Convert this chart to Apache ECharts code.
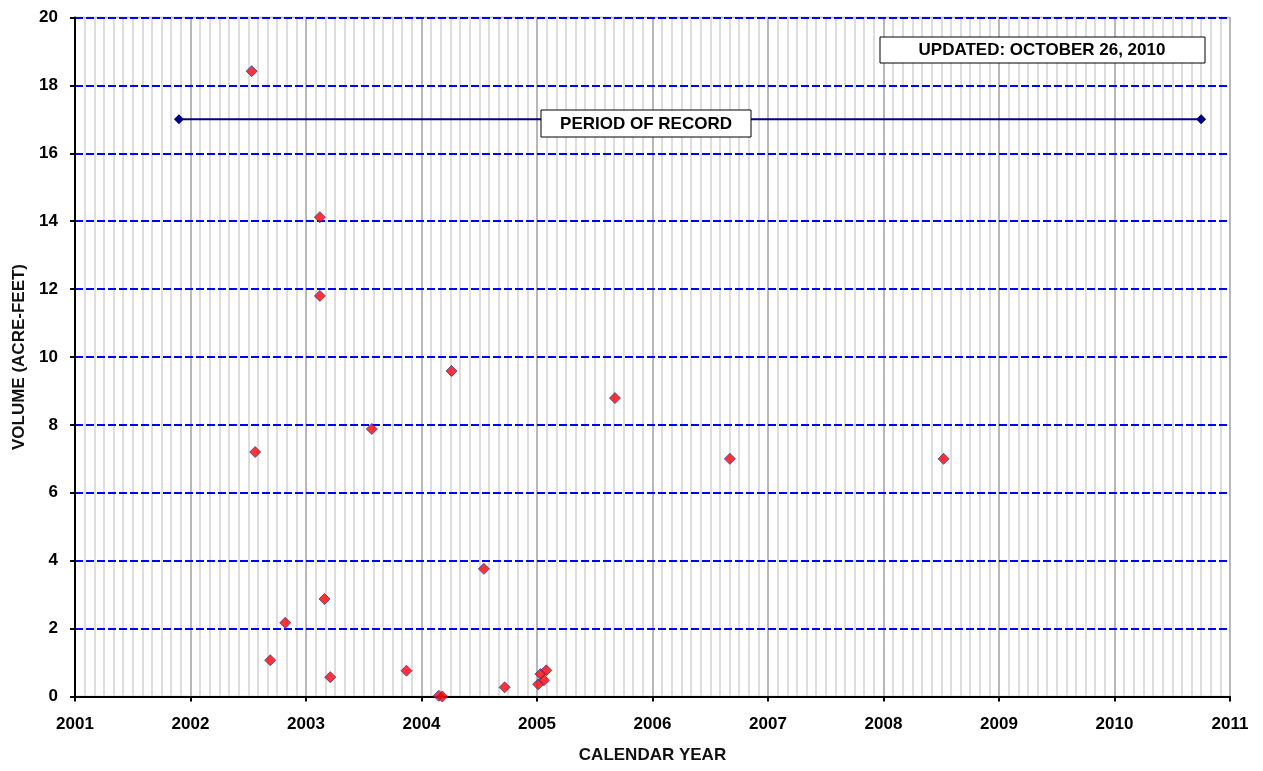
<!DOCTYPE html>
<html>
<head>
<meta charset="utf-8">
<script src="https://cdn.jsdelivr.net/npm/echarts@6/dist/echarts.min.js"></script>
<style>
html,body{margin:0;padding:0;background:#fff;}
#c{width:1263px;height:771px;}
</style>
</head>
<body>
<div id="c"></div>
<script>
// Sample dates (decimal calendar year) and volumes (acre-feet)
const sampleYears = [2002.53, 2002.56, 2002.69, 2002.82, 2003.12, 2003.12, 2003.16, 2003.21, 2003.57, 2003.87,
  2004.15, 2004.18, 2004.26, 2004.54, 2004.72, 2005.01, 2005.03, 2005.06, 2005.08, 2005.675, 2006.67, 2008.52];
const sampleVolumes = [18.42, 7.2, 1.07, 2.17, 14.12, 11.8, 2.87, 0.57, 7.88, 0.76,
  0.02, 0.0, 9.59, 3.76, 0.27, 0.36, 0.66, 0.48, 0.77, 8.79, 7.0, 7.0];
// Period of record
const periodYears = [2001.90, 2010.75];
const periodLevel = [17.0, 17.0];
const periodLabel = 'PERIOD OF RECORD';
const updatedLabel = 'UPDATED: OCTOBER 26, 2010';
const xTitle = 'CALENDAR YEAR';
const yTitle = 'VOLUME (ACRE-FEET)';

const chart = echarts.init(document.getElementById('c'));
const FONT = '"Liberation Sans", Arial, sans-serif';

const samples = sampleYears.map((x, i) => [x, sampleVolumes[i]]);
const period = periodYears.map((x, i) => [x, periodLevel[i]]);

chart.setOption({
  animation: false,
  backgroundColor: '#fff',
  grid: { left: 75, right: 33, top: 17.5, bottom: 74.5, show: true, borderColor: '#b5b5b5', borderWidth: 1.5 },
  xAxis: {
    type: 'value', min: 2001, max: 2011, interval: 1, z: 1,
    name: xTitle, nameLocation: 'middle', nameGap: 50,
    nameTextStyle: { fontFamily: FONT, fontWeight: 'bold', fontSize: 17, color: '#111' },
    axisLine: { show: true, lineStyle: { color: '#000', width: 2 } },
    axisTick: { show: true, length: 5, lineStyle: { color: '#000', width: 2 } },
    axisLabel: { fontFamily: FONT, fontWeight: 'bold', fontSize: 17, color: '#000', margin: 19, formatter: v => String(v) },
    splitLine: { show: true, showMinLine: false, lineStyle: { color: '#b8b8b8', width: 2 } },
    minorTick: { show: false, splitNumber: 12 },
    minorSplitLine: { show: true, lineStyle: { color: '#d2d2d2', width: 1.5 } }
  },
  yAxis: {
    type: 'value', min: 0, max: 20, interval: 2, z: 2,
    name: yTitle, nameLocation: 'middle', nameGap: 46, nameRotate: 90,
    nameTextStyle: { fontFamily: FONT, fontWeight: 'bold', fontSize: 17, color: '#111' },
    axisLine: { show: true, lineStyle: { color: '#000', width: 2 } },
    axisTick: { show: true, length: 5, lineStyle: { color: '#000', width: 2 } },
    axisLabel: { fontFamily: FONT, fontWeight: 'bold', fontSize: 17, color: '#000', margin: 17 },
    splitLine: { show: true, showMinLine: false, lineStyle: { color: '#0000ff', width: 2, type: [8, 3] } }
  },
  series: [
    {
      type: 'line', data: period, symbol: 'diamond', symbolSize: 10,
      lineStyle: { color: '#000080', width: 2 },
      itemStyle: { color: '#000080' }, z: 3
    },
    {
      type: 'scatter', data: samples, symbol: 'diamond', symbolSize: 11,
      itemStyle: { color: '#ff0000', borderColor: '#3b3b9a', borderWidth: 1 }, z: 4
    }
  ],
  graphic: [
    { type: 'rect', shape: { x: 541, y: 110, width: 210, height: 27 }, style: { fill: '#fff', stroke: '#000', lineWidth: 1 }, z: 10 },
    { type: 'text', x: 646, y: 124, style: { text: periodLabel, font: 'bold 17px ' + FONT, fill: '#000', align: 'center', verticalAlign: 'middle' }, z: 11 },
    { type: 'rect', shape: { x: 880, y: 37, width: 325, height: 26 }, style: { fill: '#fff', stroke: '#000', lineWidth: 1 }, z: 10 },
    { type: 'text', x: 1042, y: 50, style: { text: updatedLabel, font: 'bold 17px ' + FONT, fill: '#000', align: 'center', verticalAlign: 'middle' }, z: 11 }
  ]
});
</script>
</body>
</html>
